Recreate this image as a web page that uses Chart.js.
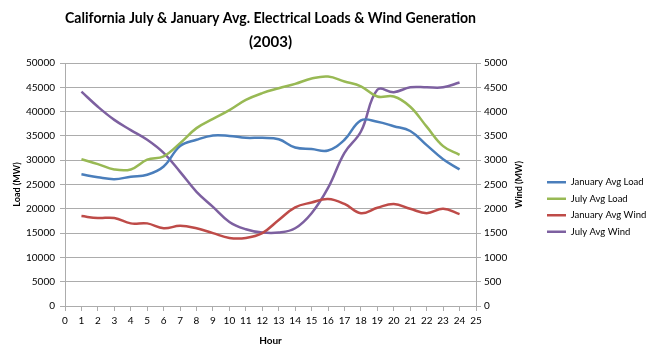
<!DOCTYPE html>
<html>
<head>
<meta charset="utf-8">
<script src="https://cdn.jsdelivr.net/npm/chart.js@4/dist/chart.umd.min.js"></script>
<style>
  html, body { margin: 0; padding: 0; background: #fff; }
  #wrap { width: 648px; height: 358px; }
</style>
</head>
<body>
<div id="wrap"><canvas id="chart"></canvas></div>
<script>
const hours = [1, 2, 3, 4, 5, 6, 7, 8, 9, 10, 11, 12, 13, 14, 15, 16, 17, 18, 19, 20, 21, 22, 23, 24];
const janLoad = [27100, 26500, 26100, 26600, 27000, 28700, 32900, 34200, 35100, 35000, 34600, 34600,
                 34300, 32600, 32300, 32000, 34200, 38200, 37900, 37000, 36000, 33100, 30200, 28100];
const julLoad = [30200, 29200, 28100, 28100, 30100, 30800, 33500, 36600, 38500, 40300, 42400, 43800,
                 44800, 45700, 46800, 47200, 46200, 45200, 43100, 43100, 41000, 36900, 32900, 31100];
const janWind = [1850, 1810, 1810, 1700, 1700, 1600, 1650, 1600, 1500, 1400, 1400, 1500,
                 1770, 2030, 2130, 2200, 2100, 1910, 2020, 2100, 2000, 1910, 2000, 1890];
const julWind = [4410, 4100, 3830, 3620, 3420, 3150, 2760, 2350, 2040, 1730, 1580, 1510,
                 1510, 1600, 1910, 2430, 3150, 3590, 4450, 4400, 4500, 4500, 4500, 4600];
const seriesNames = ['January Avg Load', 'July Avg Load', 'January Avg Wind', 'July Avg Wind'];
const titleLines = ['California July & January Avg. Electrical Loads & Wind Generation', '(2003)'];

const FONT = 'Lato, "Liberation Sans", sans-serif';
const gridColor = '#acacac';

function pts(values) {
  return values.map((v, i) => ({ x: hours[i], y: v }));
}

function line(label, values, color, axis) {
  return {
    label,
    data: pts(values),
    borderColor: color,
    backgroundColor: color,
    borderWidth: 2.5,
    pointRadius: 0,
    tension: 0.4,
    yAxisID: axis
  };
}

// right axis title in Excel reads bottom-to-top, so draw it here
const windTitle = {
  id: 'windTitle',
  afterDraw(chart) {
    const { ctx, chartArea } = chart;
    ctx.save();
    ctx.translate(519, (chartArea.top + chartArea.bottom) / 2);
    ctx.rotate(-Math.PI / 2);
    ctx.font = 'bold 9px ' + FONT;
    ctx.fillStyle = '#000';
    ctx.textAlign = 'center';
    ctx.textBaseline = 'middle';
    ctx.fillText('Wind (MW)', 0, 0);
    ctx.restore();
  }
};

const plain = v => String(v);

new Chart(document.getElementById('chart'), {
  type: 'line',
  data: {
    datasets: [
      line(seriesNames[0], janLoad, '#4A7EBB', 'y'),
      line(seriesNames[1], julLoad, '#98B954', 'y'),
      line(seriesNames[2], janWind, '#BE4B48', 'y1'),
      line(seriesNames[3], julWind, '#7D60A0', 'y1')
    ]
  },
  plugins: [windTitle],
  options: {
    responsive: true,
    maintainAspectRatio: false,
    devicePixelRatio: 1,
    animation: false,
    layout: { padding: 0 },
    plugins: {
      tooltip: { enabled: false },
      title: {
        display: true,
        text: titleLines,
        fullSize: false,
        color: '#000',
        font: { family: FONT, size: 15, weight: 'bold', lineHeight: 1.6 },
        padding: { top: 6, bottom: 9 }
      },
      legend: {
        position: 'right',
        title: { display: true, text: '', padding: { top: 44, bottom: 0 }, font: { size: 10 } },
        labels: {
          usePointStyle: true,
          pointStyle: 'line',
          pointStyleWidth: 19,
          padding: 7,
          color: '#000',
          font: { family: FONT, size: 9.5 }
        }
      }
    },
    scales: {
      x: {
        type: 'linear',
        min: 0,
        max: 25,
        afterFit: s => { s.height = 52; },
        ticks: { stepSize: 1, color: '#000', padding: 4, maxRotation: 0, callback: plain, font: { family: FONT, size: 10 } },
        grid: { drawOnChartArea: false, color: gridColor, tickLength: 5 },
        border: { color: gridColor },
        title: { display: true, text: 'Hour', color: '#000', font: { family: FONT, size: 10, weight: 'bold' }, padding: { bottom: 11 } }
      },
      y: {
        position: 'left',
        min: 0,
        max: 50000,
        afterFit: s => { s.width = 65; },
        ticks: { stepSize: 5000, color: '#000', padding: 5, callback: plain, font: { family: FONT, size: 10 } },
        grid: { color: gridColor, tickLength: 5 },
        border: { color: gridColor },
        title: { display: true, text: 'Load (MW)', color: '#000', font: { family: FONT, size: 9, weight: 'bold' }, padding: { top: 12 } }
      },
      y1: {
        position: 'right',
        min: 0,
        max: 5000,
        afterFit: s => { s.width = 172 - (s.chart.legend ? s.chart.legend.width : 108); },
        ticks: { stepSize: 500, color: '#000', padding: 3, callback: plain, font: { family: FONT, size: 10 } },
        grid: { drawOnChartArea: false, color: gridColor, tickLength: 5 },
        border: { color: gridColor }
      }
    }
  }
});
</script>
</body>
</html>
